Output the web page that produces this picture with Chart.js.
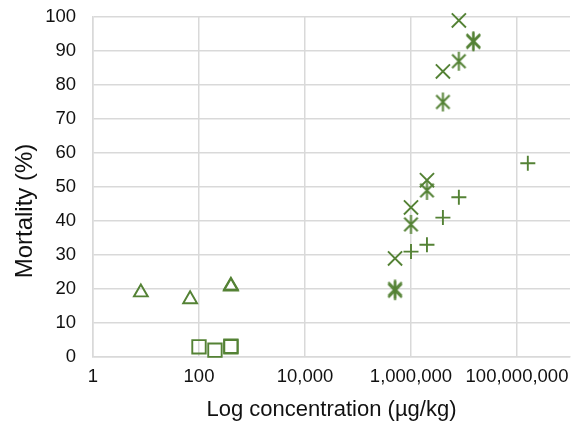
<!DOCTYPE html>
<html>
<head>
<meta charset="utf-8">
<script src="https://cdn.jsdelivr.net/npm/chart.js@4.4.1/dist/chart.umd.min.js"></script>
<style>
  body { margin: 0; background: #fff; }
</style>
</head>
<body>
<canvas id="mortalityChart" width="582" height="425"></canvas>
<script>
// values
const triangleConc = [8, 68, 400, 400];
const triangleMort = [19, 17, 21, 20.7];
const squareConc = [100, 200, 400, 400];
const squareMort = [3, 2, 3, 3.2];
const crossConc = [500000, 1000000, 2000000, 4000000, 8000000];
const crossMort = [29, 44, 52, 84, 99];
const starConc = [500000, 500000, 1000000, 2000000, 4000000, 8000000, 15000000, 15000000];
const starMort = [20, 19.5, 39, 49, 75, 87, 93, 92.7];
const plusConc = [1000000, 2000000, 4000000, 8000000, 160000000];
const plusMort = [31, 33, 41, 47, 57];
const xTicks = [1, 100, 10000, 1000000, 100000000];

const green = '#548235';

function toPoints(xs, ys) {
    return xs.map((x, i) => ({ x: x, y: ys[i] }));
}

// Excel style star: an x with a vertical stroke
function makeStar(size, color, lw) {
    const c = document.createElement('canvas');
    c.width = size;
    c.height = size;
    const ctx = c.getContext('2d');
    const m = size / 2;
    const r = size / 2 - 1;
    const d = r * Math.SQRT1_2;
    ctx.strokeStyle = color;
    ctx.lineWidth = lw;
    ctx.beginPath();
    ctx.moveTo(m - d, m - d); ctx.lineTo(m + d, m + d);
    ctx.moveTo(m + d, m - d); ctx.lineTo(m - d, m + d);
    ctx.moveTo(m, m - r); ctx.lineTo(m, m + r);
    ctx.stroke();
    return c;
}

const starImg = makeStar(21, green, 2);

// y axis title sits a bit below the plot middle in the original
const yTitle = {
    id: 'yTitle',
    afterDraw(chart) {
        const c = chart.ctx;
        const area = chart.chartArea;
        c.save();
        c.translate(25, (area.top + area.bottom) / 2 + 24);
        c.rotate(-Math.PI / 2);
        c.font = '24px "Liberation Sans"';
        c.fillStyle = '#111';
        c.textAlign = 'center';
        c.textBaseline = 'middle';
        c.fillText('Mortality (%)', 0, 0);
        c.restore();
    }
};

const ctx = document.getElementById('mortalityChart').getContext('2d');
const mortalityChart = new Chart(ctx, {
    type: 'scatter',
    data: {
        datasets: [
            { data: toPoints(triangleConc, triangleMort), pointStyle: 'triangle', pointRadius: 8 },
            { data: toPoints(squareConc, squareMort), pointStyle: 'rect', pointRadius: 9.5 },
            { data: toPoints(crossConc, crossMort), pointStyle: 'crossRot', pointRadius: 10 },
            { data: toPoints(starConc, starMort), pointStyle: starImg, pointRadius: 8 },
            { data: toPoints(plusConc, plusMort), pointStyle: 'cross', pointRadius: 7.5 }
        ].map(ds => Object.assign(ds, {
            borderColor: green,
            backgroundColor: 'rgba(0,0,0,0)',
            pointBorderWidth: 1.9,
            clip: false
        }))
    },
    options: {
        responsive: false,
        animation: false,
        layout: { padding: { top: 17, right: 12, left: 0, bottom: 0 } },
        plugins: { legend: { display: false }, tooltip: { enabled: false } },
        scales: {
            x: {
                type: 'logarithmic',
                min: 1,
                max: 1000000000,
                afterBuildTicks: (axis) => { axis.ticks = xTicks.map(v => ({ value: v })); },
                afterFit: (scale) => {
                    scale.height = 68;
                    scale.paddingLeft = 0;
                    scale.paddingRight = 0;
                },
                grid: { color: '#d9d9d9', lineWidth: 1.5, drawTicks: false },
                border: { color: '#d9d9d9', width: 1.5 },
                ticks: {
                    padding: 9,
                    color: '#111',
                    font: { family: 'Liberation Sans', size: 18.5 },
                    maxRotation: 0,
                    autoSkip: false,
                    callback: (v) => Number(v).toLocaleString('en-US')
                },
                title: {
                    display: true,
                    text: 'Log concentration (µg/kg)',
                    color: '#111',
                    font: { family: 'Liberation Sans', size: 22 },
                    padding: { top: 0, bottom: 2 }
                }
            },
            y: {
                min: 0,
                max: 100,
                afterFit: (scale) => {
                    scale.width = 93;
                    scale.paddingTop = 0;
                    scale.paddingBottom = 0;
                },
                grid: { color: '#d9d9d9', lineWidth: 1.5, drawTicks: false },
                border: { color: '#d9d9d9', width: 1.5 },
                ticks: {
                    stepSize: 10,
                    padding: 17,
                    color: '#111',
                    font: { family: 'Liberation Sans', size: 18.5 }
                }
            }
        }
    },
    plugins: [yTitle]
});
</script>
</body>
</html>
